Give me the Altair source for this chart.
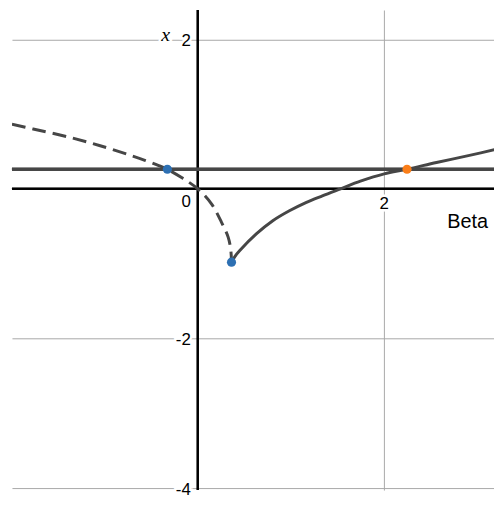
import altair as alt
import pandas as pd

# ---- data ----
dashed_beta = [-1.993, -1.766, -1.411, -1.056, -0.702, -0.56, -0.418, -0.326, -0.16, 0.0, 0.149, 0.255, 0.327, 0.355, 0.362]
dashed_x = [0.865, 0.800, 0.700, 0.580, 0.440, 0.378, 0.310, 0.261, 0.140, 0.0, -0.205, -0.449, -0.649, -0.826, -0.981]

solid_beta = [0.362, 0.398, 0.451, 0.628, 0.805, 0.983, 1.160, 1.337, 1.532, 1.745, 2.000, 2.245, 2.561, 2.915, 3.220]
solid_x = [-0.981, -0.906, -0.826, -0.604, -0.427, -0.294, -0.184, -0.094, 0.000, 0.102, 0.200, 0.262, 0.352, 0.447, 0.535]

level = 0.262

pt_beta = [-0.326, 0.362, 2.245]
pt_x = [0.262, -0.981, 0.262]
pt_kind = ["blue", "blue", "orange"]

ytick_vals = [2, -2, -4]
ytick_text = ["2", "-2", "-4"]
xtick_vals = [2]
xtick_text = ["2"]

x_domain = [-1.993, 3.178]
y_domain = [-4.03, 2.392]

# ---- scales / axes ----
xs = alt.Scale(domain=x_domain, nice=False, zero=False)
ys = alt.Scale(domain=y_domain, nice=False, zero=False)
gridc = "#a8a8a8"
xax = alt.Axis(values=xtick_vals, grid=True, labels=False, ticks=False, domain=False, title=None,
               gridColor=gridc, gridWidth=1)
yax = alt.Axis(values=ytick_vals, grid=True, labels=False, ticks=False, domain=False, title=None,
               gridColor=gridc, gridWidth=1)

def X(**kw):
    return alt.X(scale=xs, axis=xax, **kw)

def Y(**kw):
    return alt.Y(scale=ys, axis=yax, **kw)

curve_col = "#464646"

df_dash = pd.DataFrame({"beta": dashed_beta, "x": dashed_x, "i": list(range(len(dashed_beta)))})
df_solid = pd.DataFrame({"beta": solid_beta, "x": solid_x, "i": list(range(len(solid_beta)))})
df_pts = pd.DataFrame({"beta": pt_beta, "x": pt_x, "kind": pt_kind})
df_yt = pd.DataFrame({"v": ytick_vals, "t": ytick_text})
df_xt = pd.DataFrame({"v": xtick_vals, "t": xtick_text})
df_zero = pd.DataFrame({"v": [0], "t": ["0"]})
df_beta = pd.DataFrame({"t": ["Beta"]})
df_xl = pd.DataFrame({"t": ["x"]})

base = alt.Chart(df_pts)

yaxis_line = base.mark_rule(color="#000000", strokeWidth=2).encode(
    x=X(datum=0, type="quantitative"))
xaxis_line = base.mark_rule(color="#000000", strokeWidth=2).encode(
    y=Y(datum=0, type="quantitative"))
hline = base.mark_rule(color=curve_col, strokeWidth=3).encode(
    y=Y(datum=level, type="quantitative"))

dash = alt.Chart(df_dash).mark_line(color=curve_col, strokeWidth=3, strokeDash=[14, 7],
                                     interpolate="catmull-rom", clip=True).encode(
    x=X(field="beta", type="quantitative"), y=Y(field="x", type="quantitative"), order="i:Q")
solid = alt.Chart(df_solid).mark_line(color=curve_col, strokeWidth=3,
                                       interpolate="catmull-rom", clip=True).encode(
    x=X(field="beta", type="quantitative"), y=Y(field="x", type="quantitative"), order="i:Q")

pts = alt.Chart(df_pts).mark_circle(size=85, opacity=1).encode(
    x=X(field="beta", type="quantitative"), y=Y(field="x", type="quantitative"),
    color=alt.Color("kind:N", scale=alt.Scale(domain=["blue", "orange"], range=["#2d70b3", "#fa7e19"]),
                    legend=None))

font = "Arial, Liberation Sans, sans-serif"

def labeled(df, enc, halo=True, **mk):
    layers = []
    if halo:
        layers.append(alt.Chart(df).mark_text(fill="#ffffff", stroke="#ffffff", strokeWidth=5, **mk).encode(**enc))
    layers.append(alt.Chart(df).mark_text(fill="#000000", **mk).encode(**enc))
    return layers

yt_layers = labeled(df_yt, dict(x=X(datum=0, type="quantitative"), y=Y(field="v", type="quantitative"), text="t:N"),
                    font=font, fontSize=17, align="right", baseline="alphabetic", dx=-7, dy=7)
xt_layers = labeled(df_xt, dict(x=X(field="v", type="quantitative"), y=Y(datum=0, type="quantitative"), text="t:N"),
                    font=font, fontSize=17, align="center", baseline="alphabetic", dx=0, dy=20)
z_layers = labeled(df_zero, dict(x=X(field="v", type="quantitative"), y=Y(field="v", type="quantitative"), text="t:N"),
                   font=font, fontSize=17, align="right", baseline="alphabetic", dx=-7, dy=18)
beta_layers = labeled(df_beta, dict(x=X(datum=x_domain[1], type="quantitative"), y=Y(datum=0, type="quantitative"), text="t:N"),
                      font=font, fontSize=20, align="right", baseline="alphabetic", dx=-6, dy=40)
xl_layers = labeled(df_xl, dict(x=X(datum=0, type="quantitative"), y=Y(datum=2, type="quantitative"), text="t:N"),
                    font="Liberation Serif, Times New Roman, serif", fontSize=20, fontStyle="italic",
                    align="right", baseline="alphabetic", dx=-28, dy=2)

chart = alt.layer(
    yaxis_line, xaxis_line, hline, dash, solid, pts,
    *yt_layers, *xt_layers, *z_layers, *beta_layers, *xl_layers
).properties(
    width=486, height=484,
    autosize=alt.AutoSizeParams(type="none"),
    padding={"left": 4, "top": 0, "right": 0, "bottom": 10},
).configure_view(stroke=None)

chart.save("out.html", embed_options={"renderer": "svg", "actions": False})
